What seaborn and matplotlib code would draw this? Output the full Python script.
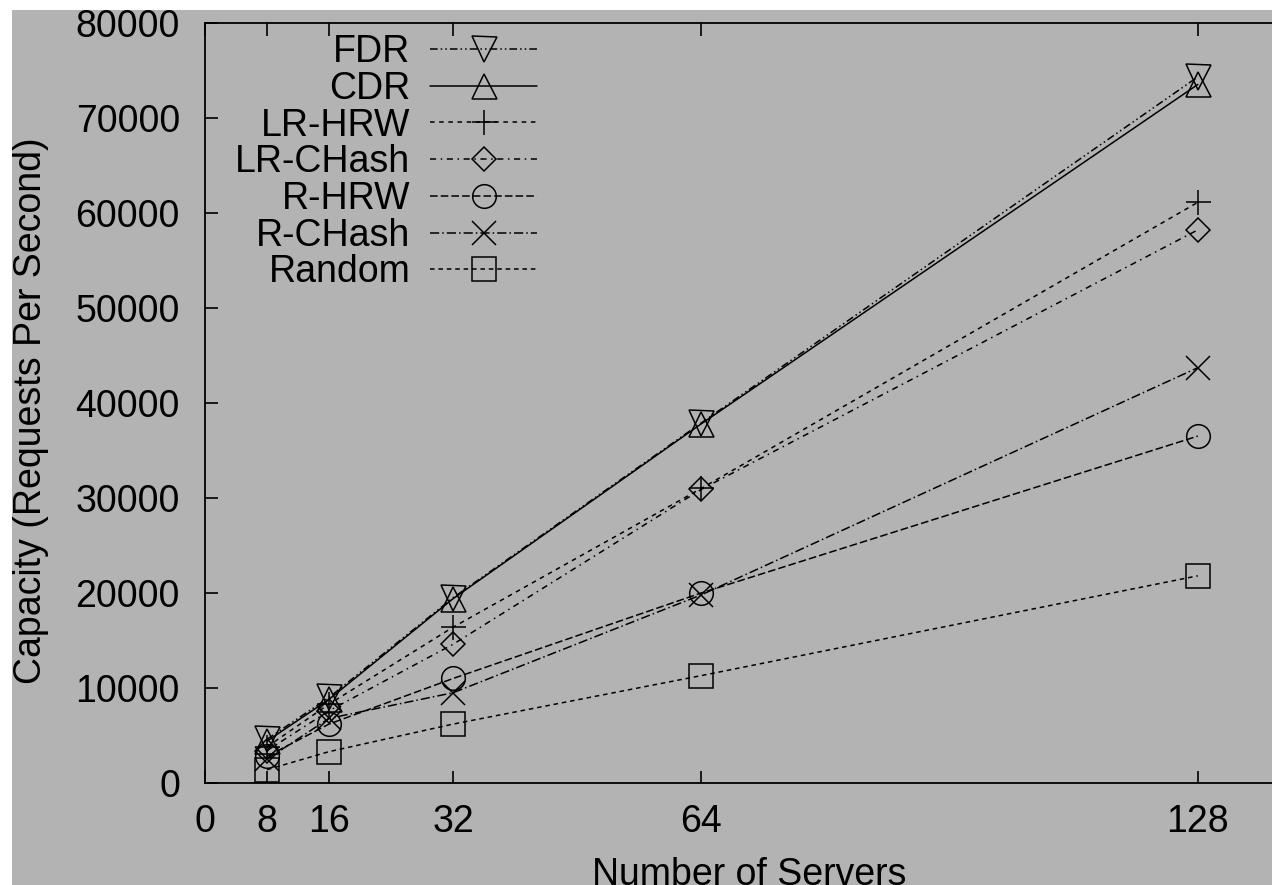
import matplotlib
matplotlib.use("Agg")
import matplotlib.pyplot as plt
import seaborn as sns
import pandas as pd
from matplotlib.patches import Rectangle

servers = [8, 16, 32, 64, 128]
methods = ["FDR", "CDR", "LR-HRW", "LR-CHash", "R-HRW", "R-CHash", "Random"]
fdr = [4600, 9000, 19500, 37900, 74300]
cdr = [4400, 8800, 19400, 37800, 73500]
lr_hrw = [3800, 8300, 16400, 31000, 61100]
lr_chash = [3400, 7600, 14600, 30900, 58200]
r_hrw = [2800, 6200, 11000, 20000, 36500]
r_chash = [2500, 6800, 9500, 19800, 43700]
random_ = [1400, 3300, 6200, 11300, 21800]
x_ticks = [0, 8, 16, 32, 64, 128]
y_ticks = [0, 10000, 20000, 30000, 40000, 50000, 60000, 70000, 80000]

values = [fdr, cdr, lr_hrw, lr_chash, r_hrw, r_chash, random_]
rows = []
for m, vals in zip(methods, values):
    for s, v in zip(servers, vals):
        rows.append({"Servers": s, "Capacity": v, "Method": m})
df = pd.DataFrame(rows)

markers = {"FDR": "v", "CDR": "^", "LR-HRW": "+", "LR-CHash": "D",
           "R-HRW": "o", "R-CHash": "x", "Random": "s"}
msizes = {"FDR": 18, "CDR": 18, "LR-HRW": 18, "LR-CHash": 12,
          "R-HRW": 17, "R-CHash": 17, "Random": 17}
styles = {"FDR": (0, (5, 2, 1, 2, 1, 2)), "CDR": "-",
          "LR-HRW": (0, (3, 3)), "LR-CHash": (0, (4, 3, 1, 3)),
          "R-HRW": (0, (5, 2)), "R-CHash": (0, (6, 2, 1, 2)),
          "Random": (0, (3, 2.5))}

sns.set_style("ticks")
plt.rcParams["font.family"] = ["Liberation Sans", "DejaVu Sans"]
plt.rcParams["text.color"] = "black"
plt.rcParams["axes.labelcolor"] = "black"
plt.rcParams["xtick.color"] = "black"
plt.rcParams["ytick.color"] = "black"
gray = "#b3b3b3"

fig = plt.figure(figsize=(12.72, 8.85), dpi=100, facecolor=gray)
fig.patches.append(Rectangle((0, 0), 12 / 1272, 1, transform=fig.transFigure,
                             facecolor="white", edgecolor="none", zorder=-10))
fig.patches.append(Rectangle((0, 1 - 10 / 885), 1, 10 / 885, transform=fig.transFigure,
                             facecolor="white", edgecolor="none", zorder=-10))

left = 204.9 / 1272
bottom = (885 - 783) / 885
width = 1086 / 1272
height = (783 - 22.7) / 885
ax = fig.add_axes([left, bottom, width, height])
ax.set_facecolor(gray)

for m in methods:
    sub = df[df["Method"] == m]
    sns.lineplot(data=sub, x="Servers", y="Capacity", ax=ax, color="black",
                 linewidth=1.1, linestyle=styles[m], marker=markers[m],
                 markersize=msizes[m], markerfacecolor="none",
                 markeredgecolor="black", markeredgewidth=1.1, label=m,
                 legend=False)

ax.set_xlim(0, 140)
ax.set_ylim(0, 80000)
ax.set_xticks(x_ticks)
ax.set_yticks(y_ticks)
ax.set_xticklabels([str(t) for t in x_ticks])
ax.set_yticklabels([str(t) for t in y_ticks])
ax.tick_params(axis="both", direction="in", length=9, width=1.2,
               labelsize=27, colors="black")
ax.tick_params(axis="x", top=True, pad=15)
ax.tick_params(axis="y", right=True, pad=18)
for sp in ax.spines.values():
    sp.set_visible(True)
    sp.set_linewidth(1.3)
    sp.set_color("black")

ax.set_xlabel("Number of Servers", fontsize=27, color="black")
ax.set_ylabel("Capacity (Requests Per Second)", fontsize=27, color="black")
ax.xaxis.set_label_coords(0.5015, -0.097)
ax.yaxis.set_label_coords(-0.144, 0.49)

handles, labels = ax.get_legend_handles_labels()
leg = ax.legend(handles, labels, loc="upper right", markerfirst=False,
                frameon=False, fontsize=27, handlelength=2.85,
                handletextpad=0.53, labelspacing=0.02, borderpad=0,
                borderaxespad=0, labelcolor="black",
                bbox_to_anchor=(537 / 1272, (885 - 34) / 885),
                bbox_transform=fig.transFigure)

fig.savefig("out.png", dpi=100, facecolor=gray)
